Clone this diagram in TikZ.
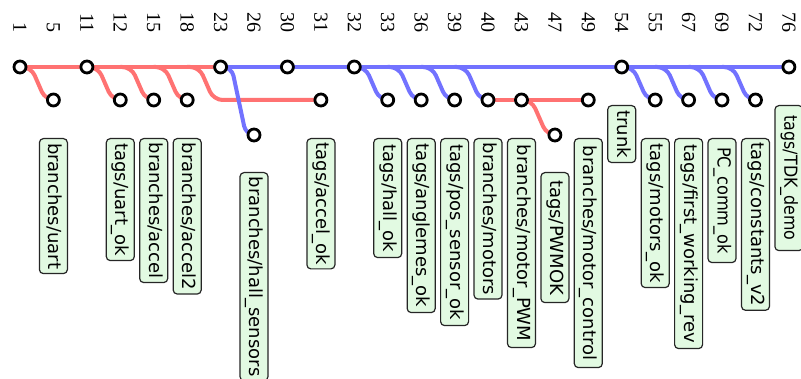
\documentclass[tikz,border=0pt]{standalone}
\usepackage{fontspec}
\usepackage{graphicx}
\usetikzlibrary{calc}
\newfontfamily\lblfont{DejaVu Sans}
\newfontfamily\numfont{Liberation Serif}
\definecolor{redln}{RGB}{255,114,114}
\definecolor{blueln}{RGB}{114,114,255}
\definecolor{tagfill}{RGB}{226,250,226}
\pgfdeclarelayer{paper}
\pgfdeclarelayer{wires}
\pgfsetlayers{paper,wires,main}
\tikzset{
  rev/.style={circle, draw=black, fill=white, line width=2.8pt, minimum size=12pt, inner sep=0pt},
  revnum/.style={rotate=-90, anchor=east, inner sep=0pt, font=\numfont\fontsize{20}{22}\selectfont},
  tag/.style={rotate=-90, anchor=west, draw=black!85, line width=1.2pt, fill=tagfill,
    rounded corners=4pt, inner xsep=4pt, inner ysep=5pt, text height=13.5pt, text depth=4.5pt,
    font=\lblfont\fontsize{18}{20}\selectfont},
  redpath/.style={draw=redln, line width=4pt, rounded corners=9pt},
  bluepath/.style={draw=blueln, line width=4pt, rounded corners=9pt},
}
\begin{document}
\begin{tikzpicture}[x=1pt, y=-1pt]
\begin{pgfonlayer}{paper}
  \fill[white] (0,0) rectangle (801,379);
\end{pgfonlayer}
\useasboundingbox (0,0) rectangle (801,379);
\clip (0,0) rectangle (801,379);

% revision numbers along the top
\foreach \r/\x in {1/20.0, 5/53.4, 11/86.9, 12/120.3, 15/153.7, 18/187.2, 23/220.6, 26/254.0,
  30/287.4, 31/320.9, 32/354.3, 33/387.7, 36/421.2, 39/454.6, 40/488.0, 43/521.5, 47/554.9,
  49/588.3, 54/621.7, 55/655.2, 67/688.6, 69/722.0, 72/755.5, 76/788.9}
  \node[revnum] (v\r) at (\x,33) {\r};

% revisions
\node[rev] (r1)  at (20.0,67)  {};
\node[rev] (r5)  at (53.4,100) {};
\node[rev] (r11) at (86.9,67)  {};
\node[rev] (r12) at (120.3,100) {};
\node[rev] (r15) at (153.7,100) {};
\node[rev] (r18) at (187.2,100) {};
\node[rev] (r23) at (220.6,67)  {};
\node[rev] (r26) at (254.0,135) {};
\node[rev] (r30) at (287.4,67)  {};
\node[rev] (r31) at (320.9,100) {};
\node[rev] (r32) at (354.3,67)  {};
\node[rev] (r33) at (387.7,100) {};
\node[rev] (r36) at (421.2,100) {};
\node[rev] (r39) at (454.6,100) {};
\node[rev] (r40) at (488.0,100) {};
\node[rev] (r43) at (521.5,100) {};
\node[rev] (r47) at (554.9,135) {};
\node[rev] (r49) at (588.3,100) {};
\node[rev] (r54) at (621.7,67)  {};
\node[rev] (r55) at (655.2,100) {};
\node[rev] (r67) at (688.6,100) {};
\node[rev] (r69) at (722.0,100) {};
\node[rev] (r72) at (755.5,100) {};
\node[rev] (r76) at (788.9,67)  {};

\begin{pgfonlayer}{wires}
  % main lines
  \draw[redpath] (r1.center) -- (r11.center) -- (r23.center);
  \draw[bluepath] (r23.center) -- (r30.center) -- (r32.center) -- (r54.center) -- (r76.center);
  % red branches
  \draw[redpath] (r1.center) -- ++(11,0) -- ($(r5.center)+(-8,0)$) -- (r5.center);
  \draw[redpath] (r11.center) -- ++(11,0) -- ($(r12.center)+(-8,0)$) -- (r12.center);
  \draw[redpath] (r12.center |- r11.center) -- ++(11,0) -- ($(r15.center)+(-8,0)$) -- (r15.center);
  \draw[redpath] (r15.center |- r11.center) -- ++(11,0) -- ($(r18.center)+(-8,0)$) -- (r18.center);
  \draw[redpath] (r18.center |- r11.center) -- ++(12,0) -- ($(r23.center |- r31.center)+(-7,0)$) -- (r31.center);
  \draw[redpath] (r40.center) -- (r43.center) -- (r49.center);
  \draw[redpath] (r43.center) -- ++(10,0) -- ($(r47.center)+(-8,0)$) -- (r47.center);
  % blue branches
  \draw[bluepath] (r23.center) -- ++(11,0) -- ($(r26.center)+(-8,0)$) -- (r26.center);
  \draw[bluepath] (r32.center) -- ++(11,0) -- ($(r33.center)+(-8,0)$) -- (r33.center);
  \draw[bluepath] (r33.center |- r32.center) -- ++(11,0) -- ($(r36.center)+(-8,0)$) -- (r36.center);
  \draw[bluepath] (r36.center |- r32.center) -- ++(11,0) -- ($(r39.center)+(-8,0)$) -- (r39.center);
  \draw[bluepath] (r39.center |- r32.center) -- ++(11,0) -- ($(r40.center)+(-8,0)$) -- (r40.center);
  \draw[bluepath] (r54.center) -- ++(11,0) -- ($(r55.center)+(-8,0)$) -- (r55.center);
  \draw[bluepath] (r55.center |- r54.center) -- ++(11,0) -- ($(r67.center)+(-8,0)$) -- (r67.center);
  \draw[bluepath] (r67.center |- r54.center) -- ++(11,0) -- ($(r69.center)+(-8,0)$) -- (r69.center);
  \draw[bluepath] (r69.center |- r54.center) -- ++(11,0) -- ($(r72.center)+(-8,0)$) -- (r72.center);
\end{pgfonlayer}

% branch and tag labels
\node[tag, minimum width=135pt] (l5)  at (53.4,138)  {branches/uart};
\node[tag, minimum width=122pt] (l12) at (120.3,138) {tags/uart\_ok};
\node[tag, minimum width=142pt] (l15) at (153.7,138) {branches/accel};
\node[tag, minimum width=154pt] (l18) at (187.2,138) {branches/accel2};
\node[tag, minimum width=208pt] (l26) at (254.0,172) {branches/hall\_sensors};
\node[tag, minimum width=129pt] (l31) at (320.9,138) {tags/accel\_ok};
\node[tag, minimum width=119pt] (l33) at (387.7,138) {tags/hall\_ok};
\node[tag, minimum width=174pt] (l36) at (421.2,138) {tags/anglemes\_ok};
\node[tag, minimum width=187pt] (l39) at (454.6,138) {tags/pos\_sensor\_ok};
\node[tag, minimum width=160pt] (l40) at (488.0,138) {branches/motors};
\node[tag, minimum width=209pt] (l43) at (521.5,138) {branches/motor\_PWM};
\node[tag, minimum width=130pt] (l47) at (554.9,172) {tags/PWMOK};
\node[tag, minimum width=229pt] (l49) at (588.3,138) {branches/motor\_control};
\node[tag, minimum width=57pt]  (l54) at (621.7,105) {trunk};
\node[tag, minimum width=149pt] (l55) at (655.2,138) {tags/motors\_ok};
\node[tag, minimum width=210pt] (l67) at (688.6,138) {tags/first\_working\_rev};
\node[tag, minimum width=124pt] (l69) at (722.0,138) {\scalebox{0.9}[1]{PC\_comm\_ok}};
\node[tag, minimum width=170pt] (l72) at (755.5,138) {tags/constants\_v2};
\node[tag, minimum width=145pt] (l76) at (788.9,105) {\scalebox{0.88}[1]{tags/TDK\_demo}};
\end{tikzpicture}
\end{document}
